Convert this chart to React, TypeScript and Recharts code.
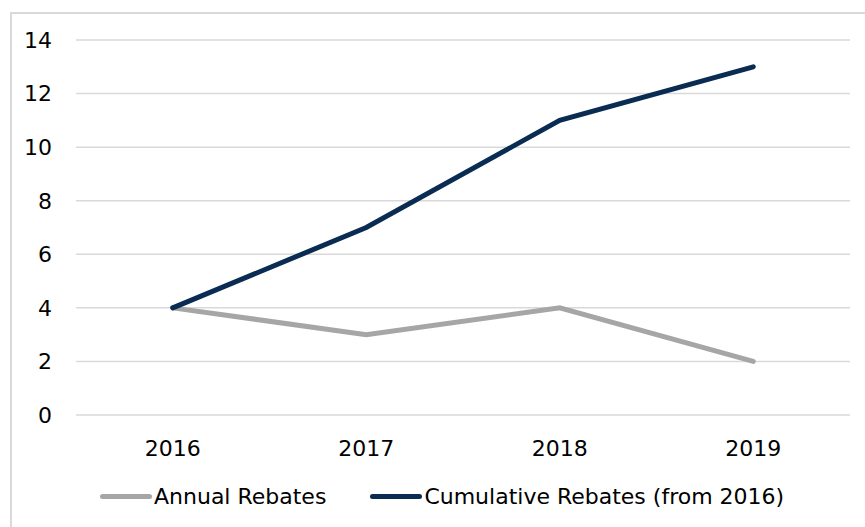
import { LineChart, Line, XAxis, YAxis, CartesianGrid, Legend } from 'recharts';

const years = ['2016', '2017', '2018', '2019'];
const annualRebates = [4, 3, 4, 2];
const cumulativeRebates = [4, 7, 11, 13];
const yTicks = [0, 2, 4, 6, 8, 10, 12, 14];

const chartData = years.map((year, i) => ({
  year,
  annual: annualRebates[i],
  cumulative: cumulativeRebates[i],
}));

const FONT = '"DejaVu Sans", Verdana, sans-serif';

function renderLegend(props: any) {
  const items = props.payload ?? [];
  return (
    <div style={{ display: 'flex', alignItems: 'center', fontFamily: FONT, fontSize: 22, color: '#000' }}>
      {items.map((entry: any, i: number) => (
        <div key={entry.value} style={{ display: 'flex', alignItems: 'center', marginLeft: i === 0 ? 0 : 44 }}>
          <span
            style={{
              display: 'inline-block',
              width: 52,
              height: 5,
              borderRadius: 3,
              background: entry.color,
              marginRight: 2,
            }}
          />
          <span>{entry.value}</span>
        </div>
      ))}
    </div>
  );
}

export default function App() {
  return (
    <div style={{ position: 'absolute', left: 0, top: 0, width: 865, height: 527, overflow: 'hidden', background: '#fff' }}>
      <div
        style={{
          position: 'absolute',
          left: 10,
          top: 12,
          width: 900,
          height: 600,
          border: '2px solid #d9d9d9',
        }}
      />
      <div style={{ position: 'absolute', left: 0, top: 0 }}>
        <LineChart width={865} height={527} data={chartData} margin={{ top: 40, right: 15, bottom: 32, left: 16 }}>
          <CartesianGrid vertical={false} stroke="#d9d9d9" strokeWidth={1.5} />
          <XAxis
            dataKey="year"
            scale="band"
            axisLine={false}
            tickLine={false}
            tickSize={0}
            tickMargin={25}
            height={50}
            tick={{ fill: '#000', fontSize: 22, fontFamily: FONT }}
          />
          <YAxis
            domain={[0, 14]}
            ticks={yTicks}
            axisLine={false}
            tickLine={false}
            tickSize={0}
            tickMargin={24}
            width={60}
            tick={{ fill: '#000', fontSize: 22, fontFamily: FONT }}
          />
          <Legend
            verticalAlign="bottom"
            content={renderLegend}
            wrapperStyle={{ position: 'absolute', left: 100, top: 484, width: 'auto', height: 30 }}
          />
          <Line
            type="linear"
            dataKey="annual"
            name="Annual Rebates"
            stroke="#a6a6a6"
            strokeWidth={5}
            strokeLinecap="round"
            dot={false}
            activeDot={false}
            isAnimationActive={false}
          />
          <Line
            type="linear"
            dataKey="cumulative"
            name="Cumulative Rebates (from 2016)"
            stroke="#0b2c52"
            strokeWidth={5}
            strokeLinecap="round"
            dot={false}
            activeDot={false}
            isAnimationActive={false}
          />
        </LineChart>
      </div>
    </div>
  );
}
